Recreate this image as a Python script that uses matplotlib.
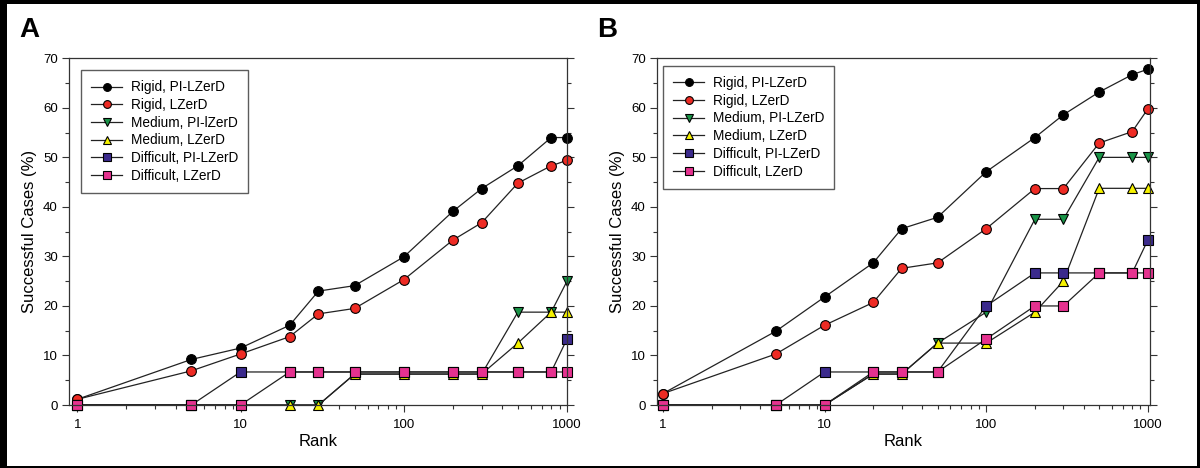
import matplotlib
matplotlib.use('Agg')
import matplotlib.pyplot as plt
from matplotlib.patches import Rectangle
from matplotlib.ticker import MultipleLocator, FixedLocator, NullFormatter

plt.rcParams['font.family'] = ['Liberation Sans', 'DejaVu Sans']

rank = [1, 5, 10, 20, 30, 50, 100, 200, 300, 500, 800, 1000]

# panel A
a_rigid_pi = [1.15, 9.2, 11.5, 16.1, 23.0, 24.1, 29.9, 39.1, 43.7, 48.3, 54.0, 54.0]
a_rigid_lz = [1.15, 6.9, 10.3, 13.8, 18.4, 19.5, 25.3, 33.3, 36.8, 44.8, 48.3, 49.4]
a_medium_pi = [0, 0, 0, 0, 0, 6.25, 6.25, 6.25, 6.25, 18.75, 18.75, 25.0]
a_medium_lz = [0, 0, 0, 0, 0, 6.25, 6.25, 6.25, 6.25, 12.5, 18.75, 18.75]
a_diff_pi = [0, 0, 6.67, 6.67, 6.67, 6.67, 6.67, 6.67, 6.67, 6.67, 6.67, 13.33]
a_diff_lz = [0, 0, 0, 6.67, 6.67, 6.67, 6.67, 6.67, 6.67, 6.67, 6.67, 6.67]

# panel B
b_rigid_pi = [2.3, 14.9, 21.8, 28.7, 35.6, 37.9, 47.1, 54.0, 58.6, 63.2, 66.7, 67.8]
b_rigid_lz = [2.3, 10.3, 16.1, 20.7, 27.6, 28.7, 35.6, 43.7, 43.7, 52.9, 55.2, 59.8]
b_medium_pi = [0, 0, 0, 6.25, 6.25, 12.5, 18.75, 37.5, 37.5, 50.0, 50.0, 50.0]
b_medium_lz = [0, 0, 0, 6.25, 6.25, 12.5, 12.5, 18.75, 25.0, 43.75, 43.75, 43.75]
b_diff_pi = [0, 0, 6.67, 6.67, 6.67, 6.67, 20.0, 26.67, 26.67, 26.67, 26.67, 33.33]
b_diff_lz = [0, 0, 0, 6.67, 6.67, 6.67, 13.33, 20.0, 20.0, 26.67, 26.67, 26.67]

labels_a = ['Rigid, PI-LZerD', 'Rigid, LZerD', 'Medium, PI-lZerD',
            'Medium, LZerD', 'Difficult, PI-LZerD', 'Difficult, LZerD']
labels_b = ['Rigid, PI-LZerD', 'Rigid, LZerD', 'Medium, PI-LZerD',
            'Medium, LZerD', 'Difficult, PI-LZerD', 'Difficult, LZerD']

styles = [('o', '#000000'), ('o', '#ee2b24'), ('v', '#199447'),
          ('^', '#f6f200'), ('s', '#3b2a8c'), ('s', '#e5328f')]

fig = plt.figure(figsize=(12, 4.68), dpi=100, facecolor='black')
fig.patches.append(Rectangle((7 / 1200, 2 / 468), 1190 / 1200, 462 / 468,
                             transform=fig.transFigure, facecolor='white',
                             edgecolor='none', zorder=-10))


def panel(rect, series, labels, xlim, leg_anchor, letter, letter_x):
    ax = fig.add_axes(rect)
    handles = []
    for (m, c), y, lab in zip(styles, series, labels):
        h, = ax.plot(rank, y, color='#222222', lw=0.9, marker=m, ms=7,
                     mfc=c, mec='black', mew=0.8, clip_on=False, label=lab)
        handles.append(h)
    ax.set_xscale('log')
    ax.set_xlim(*xlim)
    ax.set_ylim(0, 70)
    ax.yaxis.set_major_locator(MultipleLocator(10))
    ax.yaxis.set_minor_locator(MultipleLocator(5))
    ax.xaxis.set_major_locator(FixedLocator([1, 10, 100, 1000]))
    ax.set_xticklabels(['1', '10', '100', '1000'])
    ax.xaxis.set_minor_locator(FixedLocator(
        [k * 10 ** d for d in range(3) for k in range(2, 10)]))
    ax.xaxis.set_minor_formatter(NullFormatter())
    ax.tick_params(axis='both', which='major', labelsize=9.5, length=5,
                   width=0.8, color='#333333', pad=3)
    ax.tick_params(axis='x', which='major', pad=5)
    ax.tick_params(axis='both', which='minor', length=3, width=0.8,
                   color='#333333')
    ax.tick_params(axis='y', which='both', right=True, direction='out')
    for s in ax.spines.values():
        s.set_linewidth(0.9)
        s.set_color('#333333')
    ax.set_xlabel('Rank', fontsize=12, labelpad=2)
    ax.set_ylabel('Successful Cases (%)', fontsize=12, labelpad=4)
    leg = ax.legend(handles=handles, loc='upper left', bbox_to_anchor=leg_anchor,
                    fontsize=9.8, frameon=True, fancybox=False, borderaxespad=0,
                    handlelength=2.3, handletextpad=0.6, labelspacing=0.27,
                    borderpad=0.75, markerscale=0.8)
    leg.get_frame().set_edgecolor('#333333')
    leg.get_frame().set_linewidth(1.0)
    fig.text(letter_x, 0.935, letter, fontsize=20, fontweight='bold',
             ha='left', va='center')
    return ax


panel([0.0575, 0.1346, 0.415, 0.7408],
      [a_rigid_pi, a_rigid_lz, a_medium_pi, a_medium_lz, a_diff_pi, a_diff_lz],
      labels_a, (0.89, 1000), (0.024, 0.966), 'A', 19 / 1200)
panel([0.5475, 0.1346, 0.4108, 0.7408],
      [b_rigid_pi, b_rigid_lz, b_medium_pi, b_medium_lz, b_diff_pi, b_diff_lz],
      labels_b, (0.92, 1030), (0.012, 0.978), 'B', 597 / 1200)

fig.savefig('out.png', dpi=100, facecolor=fig.get_facecolor())
